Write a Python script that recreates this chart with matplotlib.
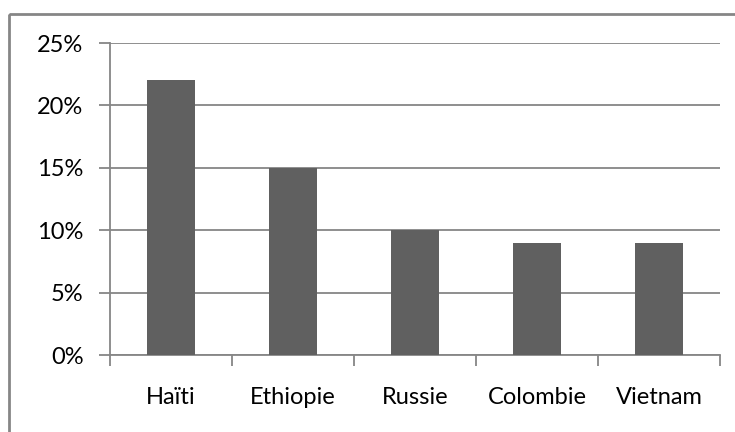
import matplotlib.pyplot as plt
from matplotlib.patches import Rectangle
from matplotlib.ticker import FuncFormatter

countries = ['Haïti', 'Ethiopie', 'Russie', 'Colombie', 'Vietnam']
shares = [22, 15, 10, 9, 9]
yticks = [0, 5, 10, 15, 20, 25]

W, H = 735, 432
plt.rcParams['font.family'] = ['Lato', 'DejaVu Sans']

fig = plt.figure(figsize=(W / 100, H / 100), dpi=100)
fig.patches.append(Rectangle((9 / W, 1 - 14 / H), 2, -2, transform=fig.transFigure,
                             fill=False, edgecolor='#868686', linewidth=2))

ax = fig.add_axes([110 / W, 1 - 355 / H, 610 / W, 312 / H])
xs = range(len(countries))
ax.bar(xs, shares, width=0.4, color='#606060', zorder=3)

ax.set_xlim(-0.5, len(countries) - 0.5)
ax.set_ylim(0, 25)
ax.set_yticks(yticks)
ax.yaxis.set_major_formatter(FuncFormatter(lambda v, p: '%d%%' % v))
ax.set_xticks(xs)
ax.set_xticklabels(countries)
ax.set_xticks([i - 0.5 for i in range(len(countries) + 1)], minor=True)
ax.tick_params(axis='x', which='major', length=0, pad=23, labelsize=17)
ax.tick_params(axis='x', which='minor', length=8, width=1.3, color='#868686', direction='out')
ax.tick_params(axis='y', length=8, width=1.3, color='#868686', direction='out',
               pad=11, labelsize=17)
ax.grid(axis='y', color='#868686', linewidth=1.3, zorder=0)

for s in ['top', 'right']:
    ax.spines[s].set_visible(False)
for s in ['left', 'bottom']:
    ax.spines[s].set_color('#868686')
    ax.spines[s].set_linewidth(1.3)

fig.savefig('out.png', dpi=100)
